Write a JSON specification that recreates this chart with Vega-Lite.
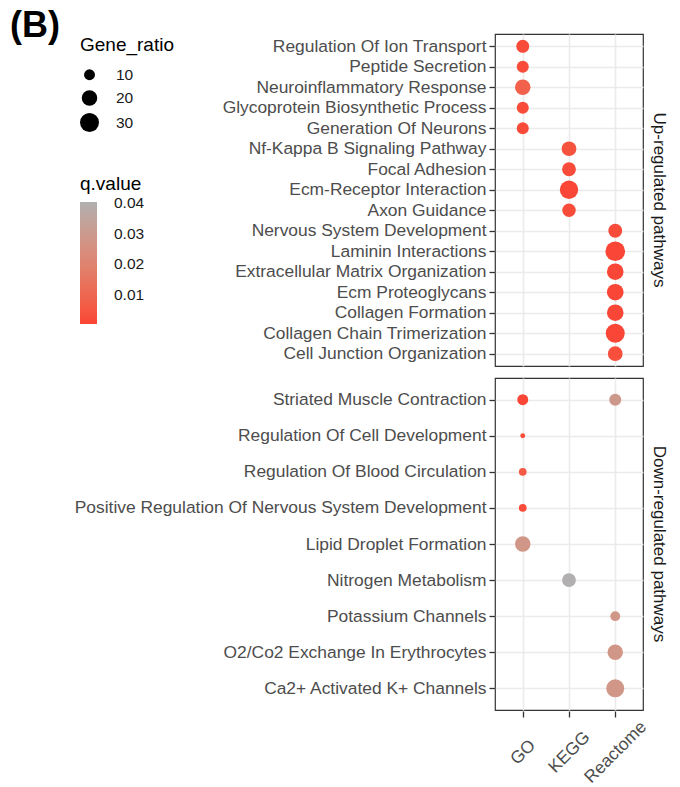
{
  "$schema": "https://vega.github.io/schema/vega-lite/v6.json",
  "autosize": {"type": "pad"},
  "padding": {"left": 10, "top": 8, "right": 10, "bottom": 0},
  "background": "white",
  "title": {"text": "(B)", "anchor": "start", "frame": "group", "fontSize": 36, "fontWeight": "bold", "font": "Liberation Sans", "color": "black", "baseline": "top", "offset": 0, "dx": -485, "dy": 12},
  "config": {
    "font": "Liberation Sans",
    "view": {"stroke": "#333333", "strokeWidth": 1.2},
    "axis": {"labelFont": "Liberation Sans", "labelFontSize": 17.4, "labelColor": "#4D4D4D", "tickColor": "#333333", "tickWidth": 1.3, "tickSize": 6, "domain": false, "grid": true, "gridColor": "#EBEBEB", "gridWidth": 1.6, "title": null},
    "legend": {"titleFont": "Liberation Sans", "labelFont": "Liberation Sans", "titleFontSize": 19, "titleFontWeight": "normal", "titleColor": "#000000", "labelFontSize": 15.5, "labelColor": "#1A1A1A"}
  },
  "data": {"values": [
    {"group": "Up-regulated pathways", "pathway": "Regulation Of Ion Transport", "source": "GO", "Gene_ratio": 14, "q_value": 0.002},
    {"group": "Up-regulated pathways", "pathway": "Peptide Secretion", "source": "GO", "Gene_ratio": 12, "q_value": 0.002},
    {"group": "Up-regulated pathways", "pathway": "Neuroinflammatory Response", "source": "GO", "Gene_ratio": 20, "q_value": 0.008},
    {"group": "Up-regulated pathways", "pathway": "Glycoprotein Biosynthetic Process", "source": "GO", "Gene_ratio": 12, "q_value": 0.002},
    {"group": "Up-regulated pathways", "pathway": "Generation Of Neurons", "source": "GO", "Gene_ratio": 12, "q_value": 0.002},
    {"group": "Up-regulated pathways", "pathway": "Nf-Kappa B Signaling Pathway", "source": "KEGG", "Gene_ratio": 18, "q_value": 0.004},
    {"group": "Up-regulated pathways", "pathway": "Focal Adhesion", "source": "KEGG", "Gene_ratio": 16, "q_value": 0.002},
    {"group": "Up-regulated pathways", "pathway": "Ecm-Receptor Interaction", "source": "KEGG", "Gene_ratio": 28, "q_value": 0.001},
    {"group": "Up-regulated pathways", "pathway": "Axon Guidance", "source": "KEGG", "Gene_ratio": 15, "q_value": 0.002},
    {"group": "Up-regulated pathways", "pathway": "Nervous System Development", "source": "Reactome", "Gene_ratio": 16, "q_value": 0.002},
    {"group": "Up-regulated pathways", "pathway": "Laminin Interactions", "source": "Reactome", "Gene_ratio": 32, "q_value": 0.001},
    {"group": "Up-regulated pathways", "pathway": "Extracellular Matrix Organization", "source": "Reactome", "Gene_ratio": 23, "q_value": 0.001},
    {"group": "Up-regulated pathways", "pathway": "Ecm Proteoglycans", "source": "Reactome", "Gene_ratio": 23, "q_value": 0.001},
    {"group": "Up-regulated pathways", "pathway": "Collagen Formation", "source": "Reactome", "Gene_ratio": 23, "q_value": 0.001},
    {"group": "Up-regulated pathways", "pathway": "Collagen Chain Trimerization", "source": "Reactome", "Gene_ratio": 30, "q_value": 0.001},
    {"group": "Up-regulated pathways", "pathway": "Cell Junction Organization", "source": "Reactome", "Gene_ratio": 18, "q_value": 0.003},
    {"group": "Down-regulated pathways", "pathway": "Striated Muscle Contraction", "source": "GO", "Gene_ratio": 10, "q_value": 0.001},
    {"group": "Down-regulated pathways", "pathway": "Striated Muscle Contraction", "source": "Reactome", "Gene_ratio": 12, "q_value": 0.029},
    {"group": "Down-regulated pathways", "pathway": "Regulation Of Cell Development", "source": "GO", "Gene_ratio": 2, "q_value": 0.002},
    {"group": "Down-regulated pathways", "pathway": "Regulation Of Blood Circulation", "source": "GO", "Gene_ratio": 5, "q_value": 0.006},
    {"group": "Down-regulated pathways", "pathway": "Positive Regulation Of Nervous System Development", "source": "GO", "Gene_ratio": 5, "q_value": 0.002},
    {"group": "Down-regulated pathways", "pathway": "Lipid Droplet Formation", "source": "GO", "Gene_ratio": 20, "q_value": 0.028},
    {"group": "Down-regulated pathways", "pathway": "Nitrogen Metabolism", "source": "KEGG", "Gene_ratio": 16, "q_value": 0.04},
    {"group": "Down-regulated pathways", "pathway": "Potassium Channels", "source": "Reactome", "Gene_ratio": 8, "q_value": 0.028},
    {"group": "Down-regulated pathways", "pathway": "O2/Co2 Exchange In Erythrocytes", "source": "Reactome", "Gene_ratio": 20, "q_value": 0.028},
    {"group": "Down-regulated pathways", "pathway": "Ca2+ Activated K+ Channels", "source": "Reactome", "Gene_ratio": 27, "q_value": 0.028}
  ]},
  "facet": {"row": {"field": "group", "type": "nominal", "sort": ["Up-regulated pathways", "Down-regulated pathways"], "header": {"title": null, "labelOrient": "right", "labelAngle": 90, "labelFontSize": 17, "labelColor": "#1A1A1A", "labelPadding": 6, "labelFont": "Liberation Sans"}}},
  "spacing": 10,
  "resolve": {"scale": {"y": "independent"}},
  "spec": {
    "width": 148,
    "height": 332,
    "mark": {"type": "circle", "opacity": 1},
    "encoding": {
      "x": {"field": "source", "type": "nominal", "sort": ["GO", "KEGG", "Reactome"], "scale": {"padding": 0.6}, "axis": {"labelAngle": -45, "labelAlign": "center", "labelBaseline": "middle", "labelPadding": 35}},
      "y": {"field": "pathway", "type": "nominal", "sort": null, "scale": {"padding": 0.6}, "axis": {"labelPadding": 3, "labelLimit": 0}},
      "size": {"field": "Gene_ratio", "type": "quantitative", "title": "Gene_ratio", "scale": {"domain": [0, 35], "range": [0, 420]}, "legend": {"orient": "none", "legendX": -415, "legendY": 2, "values": [10, 20, 30], "symbolFillColor": "#000000", "symbolStrokeWidth": 0, "symbolOpacity": 1, "rowPadding": 6, "titlePadding": 12, "labelOffset": 17}},
      "color": {"field": "q_value", "type": "quantitative", "title": "q.value", "scale": {"domain": [0.0005, 0.0403], "range": ["#FA4434", "#B0B0B0"], "interpolate": "lab"}, "legend": {"orient": "none", "legendX": -415, "legendY": 141, "values": [0.01, 0.02, 0.03, 0.04], "gradientLength": 122, "gradientThickness": 17, "gradientStrokeWidth": 0, "labelOffset": 17, "titlePadding": 8}}
    }
  }
}
